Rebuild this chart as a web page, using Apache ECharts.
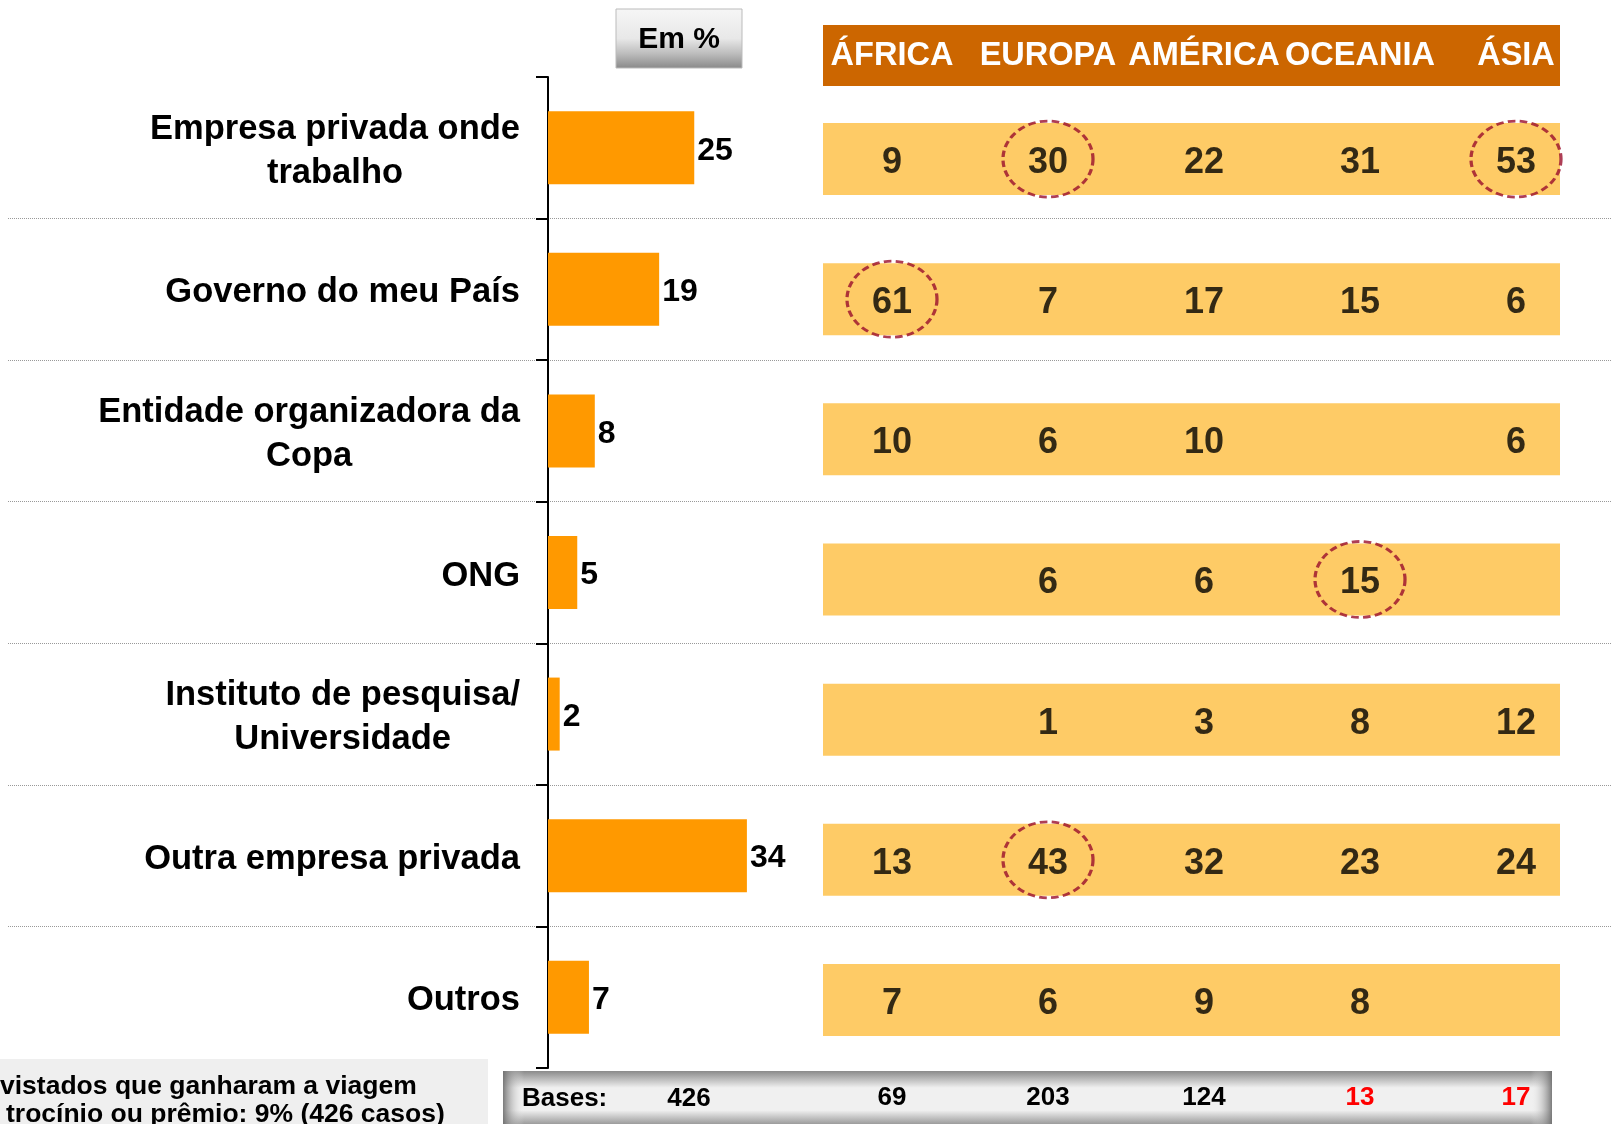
<!DOCTYPE html>
<html><head><meta charset="utf-8">
<script src="https://cdn.jsdelivr.net/npm/echarts@6/dist/echarts.min.js"></script>
<style>html,body{margin:0;padding:0;background:#fff}#c{width:1612px;height:1124px}</style>
</head><body><div id="c"></div>
<script>
// ---- data ----
const categories = ['Empresa privada onde\ntrabalho', 'Governo do meu País', 'Entidade organizadora da\nCopa', 'ONG', 'Instituto de pesquisa/\nUniversidade', 'Outra empresa privada', 'Outros'];
const totalValues = [25, 19, 8, 5, 2, 34, 7];
const regions = ['ÁFRICA', 'EUROPA', 'AMÉRICA', 'OCEANIA', 'ÁSIA'];
const africa  = [9, 61, 10, null, null, 13, 7];
const europa  = [30, 7, 6, 6, 1, 43, 6];
const america = [22, 17, 10, 6, 3, 32, 9];
const oceania = [31, 15, null, 15, 8, 23, 8];
const asia    = [53, 6, 6, null, 12, 24, null];
const regionBases = [69, 203, 124, 13, 17];
const totalBase = 426;
const highlighted = [['EUROPA', 0], ['ÁSIA', 0], ['ÁFRICA', 1], ['OCEANIA', 3], ['EUROPA', 5]];
const footnote = ['vistados que ganharam a viagem', 'trocínio ou prêmio: 9% (426 casos)'];

const SANS = '"Liberation Sans", Arial, sans-serif';

const table = [africa, europa, america, oceania, asia];
const cellData = [];
table.forEach((col, ri) => col.forEach((v, ci) => { if (v != null) cellData.push([ri, ci, v]); }));
const ellipseData = highlighted.map(h => [regions.indexOf(h[0]), h[1]]);
const rowData = categories.map((c, i) => [0, i]);

const chart = echarts.init(document.getElementById('c'));
chart.setOption({
  animation: false,
  grid: [
    { left: 548, top: 77, width: 585, height: 991 },
    { left: 814, top: 89, width: 780, height: 981 },
    { left: 8, top: 77, right: 0, height: 991 }
  ],
  xAxis: [
    { gridIndex: 0, type: 'value', min: 0, max: 100, show: false },
    { gridIndex: 1, type: 'category', data: regions, position: 'top',
      axisLine: { show: false }, axisTick: { show: false },
      axisLabel: { interval: 0, color: '#fff', fontFamily: SANS, fontWeight: 'bold', fontSize: 32.5, margin: 33, verticalAlign: 'middle' } },
    { gridIndex: 1, type: 'category', data: regions, position: 'bottom',
      axisLine: { show: false }, axisTick: { show: false },
      axisLabel: { interval: 0, margin: 28, verticalAlign: 'middle',
        formatter: (v, i) => '{' + (regionBases[i] < 30 ? 'r' : 'k') + '|' + regionBases[i] + '}',
        rich: {
          k: { color: '#000', fontFamily: SANS, fontWeight: 'bold', fontSize: 26 },
          r: { color: '#FF0000', fontFamily: SANS, fontWeight: 'bold', fontSize: 26 }
        } } },
    { gridIndex: 2, type: 'value', show: false }
  ],
  yAxis: [
    { gridIndex: 0, type: 'category', data: categories, inverse: true,
      axisLine: { lineStyle: { color: '#000', width: 2 } },
      axisTick: { show: true, length: 12, lineStyle: { color: '#000', width: 2 } },
      axisLabel: { interval: 0, margin: 28, padding: [7, 0, 0, 0],
        formatter: v => v.split('\n').map(s => '{c|' + s + '}').join('\n'),
        rich: { c: { align: 'center', color: '#000', fontFamily: SANS, fontWeight: 'bold', fontSize: 34.5, lineHeight: 44 } } } },
    { gridIndex: 1, type: 'category', data: categories, inverse: true, show: false },
    { gridIndex: 2, type: 'category', data: categories, inverse: true,
      axisLine: { show: false }, axisTick: { show: false }, axisLabel: { show: false },
      splitLine: { show: true, showMinLine: false, showMaxLine: false, lineStyle: { color: '#999', type: 'dotted', width: 1 } } }
  ],
  series: [
    { type: 'bar', xAxisIndex: 0, yAxisIndex: 0, data: totalValues, barWidth: 73,
      itemStyle: { color: '#FF9900' }, z: 3,
      label: { show: true, position: 'right', distance: 3, offset: [0, 3], color: '#000', fontFamily: SANS, fontWeight: 'bold', fontSize: 32 } },
    { type: 'custom', xAxisIndex: 1, yAxisIndex: 1, data: rowData, encode: { x: 0, y: 1 }, z: 1,
      renderItem: (params, api) => {
        const y = api.coord([0, api.value(1)])[1];
        return { type: 'rect', shape: { x: 823, y: y - 36, width: 737, height: 72 }, style: { fill: '#FECB66' } };
      } },
    { type: 'scatter', xAxisIndex: 1, yAxisIndex: 1, data: cellData, symbolSize: 1, z: 4,
      itemStyle: { color: 'rgba(0,0,0,0)' },
      label: { show: true, position: 'inside', offset: [0, 4], formatter: p => String(p.value[2]),
        color: '#000', fontFamily: SANS, fontWeight: 'bold', fontSize: 36 } },
    { type: 'scatter', xAxisIndex: 1, yAxisIndex: 1, data: ellipseData, symbol: 'circle', symbolSize: [90, 76], z: 5,
      itemStyle: { color: 'rgba(0,0,0,0)', borderColor: '#9A0E2C', borderWidth: 3, borderType: [7, 4] } }
  ],
  graphic: [
    { type: 'rect', z: -5, shape: { x: 823, y: 25, width: 737, height: 61 }, style: { fill: '#CC6600' } },
    { type: 'rect', z: -5, shape: { x: 616, y: 9, width: 126, height: 59 },
      style: { fill: new echarts.graphic.LinearGradient(0, 0, 0, 1, [
        { offset: 0, color: '#f6f6f6' }, { offset: 0.5, color: '#e8e8e8' }, { offset: 0.75, color: '#bdbdbd' }, { offset: 1, color: '#888' }]),
        stroke: '#bbb', lineWidth: 1 } },
    { type: 'text', z: 10, x: 679, y: 40, style: { text: 'Em %', fill: '#000', font: 'bold 30px ' + SANS, align: 'center', verticalAlign: 'middle' } },
    { type: 'rect', z: -5, shape: { x: 503, y: 1071, width: 1049, height: 56 },
      style: { fill: new echarts.graphic.LinearGradient(0, 0, 0, 1, [
        { offset: 0, color: '#8a8a8a' }, { offset: 0.3, color: '#f0f0f0' }, { offset: 0.7, color: '#f0f0f0' }, { offset: 1, color: '#8a8a8a' }]) } },
    { type: 'rect', z: -4, shape: { x: 503, y: 1071, width: 1049, height: 56 },
      style: { fill: new echarts.graphic.LinearGradient(0, 0, 1, 0, [
        { offset: 0, color: 'rgba(110,110,110,0.9)' }, { offset: 0.02, color: 'rgba(240,240,240,0)' },
        { offset: 0.98, color: 'rgba(240,240,240,0)' }, { offset: 1, color: 'rgba(110,110,110,0.9)' }]) } },
    { type: 'text', z: 10, x: 522, y: 1099, style: { text: 'Bases:', fill: '#000', font: 'bold 26px ' + SANS, verticalAlign: 'middle' } },
    { type: 'text', z: 10, x: 689, y: 1099, style: { text: String(totalBase), fill: '#000', font: 'bold 26px ' + SANS, align: 'center', verticalAlign: 'middle' } },
    { type: 'rect', z: -5, shape: { x: 0, y: 1059, width: 488, height: 70 }, style: { fill: '#efefef' } },
    { type: 'text', z: 10, x: 0, y: 1087, style: { text: footnote[0], fill: '#000', font: 'bold 26.5px ' + SANS, verticalAlign: 'middle' } },
    { type: 'text', z: 10, x: 6, y: 1115, style: { text: footnote[1], fill: '#000', font: 'bold 26.5px ' + SANS, verticalAlign: 'middle' } }
  ]
});
</script>
</body></html>
